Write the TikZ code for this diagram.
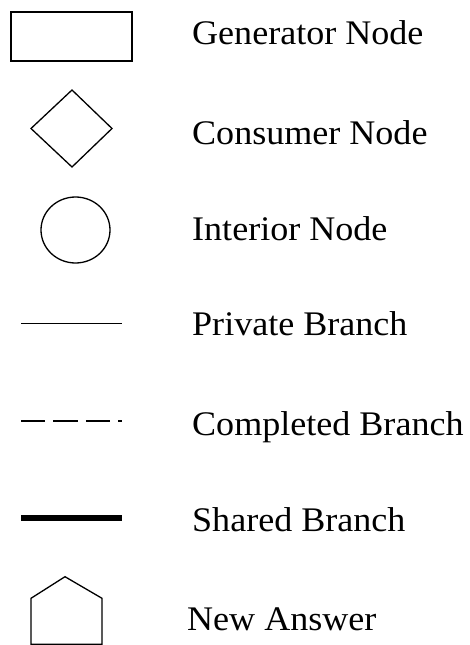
\documentclass[tikz,border=0pt]{standalone}
\usepackage{fontspec}
\setmainfont{Liberation Serif}[FakeStretch=1.045]
\begin{document}
\begin{tikzpicture}[x=1pt,y=-1pt,
  symbol/.style={draw=black,line width=1.3pt,line join=miter},
  legendtext/.style={anchor=base west,inner sep=0pt,font=\fontsize{34.5}{41}\selectfont}]
\useasboundingbox (0,0) rectangle (470,645);
% symbols
\draw[symbol] (11,12) rectangle (132,61);
\draw[symbol] (72,90) -- (112,128.5) -- (72,167) -- (31,128.5) -- cycle;
\draw[symbol] (75.5,230) ellipse [x radius=34.5,y radius=33];
\draw[line width=1.3pt] (21,323.3) -- (122,323.3);
\draw[line width=1.3pt,dash pattern=on 24.2pt off 8.2pt] (21,421) -- (122,421);
\draw[line width=5.8pt] (21,518.3) -- (122,518.3);
\draw[symbol] (31,644.3) -- (31,598.3) -- (65,576.7) -- (102,598.3) -- (102,644.3) -- cycle;
% labels
\node[legendtext] (gen) at (192,44.3) {Generator Node};
\node[legendtext] (con) at (192,144) {Consumer Node};
\node[legendtext] (int) at (192,240) {Interior Node};
\node[legendtext] (pri) at (192,335.7) {Private Branch};
\node[legendtext] (com) at (192,435) {Completed Branch};
\node[legendtext] (sha) at (192,531.7) {Shared Branch};
\node[legendtext] (new) at (187,630.7) {New Answer};
\end{tikzpicture}
\end{document}
